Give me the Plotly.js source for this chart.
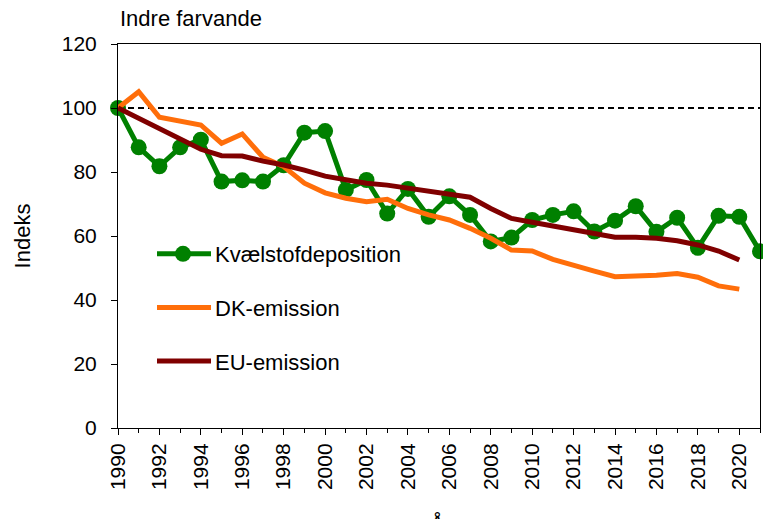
<!DOCTYPE html>
<html>
<head>
<meta charset="utf-8">
<script src="https://cdn.plot.ly/plotly-3.0.1.min.js"></script>
<style>html,body{margin:0;padding:0;background:#fff;}#chart{width:763px;height:519px;}</style>
</head>
<body>
<div id="chart"></div>
<script>
var years = [1990,1991,1992,1993,1994,1995,1996,1997,1998,1999,2000,2001,2002,2003,2004,2005,2006,2007,2008,2009,2010,2011,2012,2013,2014,2015,2016,2017,2018,2019,2020,2021];
var deposition = [100,87.7,81.8,87.7,90.1,77,77.4,77,82.1,92.3,92.8,74.4,77.5,67,74.7,66,72.4,66.6,58.3,59.5,65,66.6,67.7,61.4,64.8,69.3,61.3,65.7,56.3,66.3,66,55.2];
var emisYears = [1990,1991,1992,1993,1994,1995,1996,1997,1998,1999,2000,2001,2002,2003,2004,2005,2006,2007,2008,2009,2010,2011,2012,2013,2014,2015,2016,2017,2018,2019,2020];
var dkEmission = [100,105.1,97.1,95.9,94.7,89,91.9,84.6,81.7,76.5,73.5,71.8,70.7,71.5,68.6,66.6,65,62.4,59.3,55.6,55.3,52.7,50.7,49,47.3,47.5,47.7,48.3,47.1,44.4,43.4];
var euEmission = [100,96.8,93.6,90,87.1,85.1,85,83.4,82.2,80.6,78.7,77.6,76.5,75.9,74.9,73.9,73.1,72.1,68.6,65.5,64.3,63.1,61.9,60.5,59.6,59.6,59.3,58.5,57.2,55.3,52.5];
var refYears = [1990, 2021];
var refValues = [100, 100];
var names = ['Kvælstofdeposition', 'DK-emission', 'EU-emission'];
var tickYears = [1990,1992,1994,1996,1998,2000,2002,2004,2006,2008,2010,2012,2014,2016,2018,2020];
var yTicks = [0,20,40,60,80,100,120];

var traces = [
  {x: refYears, y: refValues, mode: 'lines', line: {color: '#000', width: 2, dash: '6px,4px'}, showlegend: false, hoverinfo: 'skip'},
  {x: years, y: deposition, mode: 'lines+markers', name: names[0], legendgroup: 'a', cliponaxis: false,
   line: {color: '#008000', width: 5}, marker: {color: '#008000', size: 16}},
  {x: emisYears, y: dkEmission, mode: 'lines', name: names[1], legendgroup: 'b', line: {color: '#FF6E0A', width: 5}},
  {x: emisYears, y: euEmission, mode: 'lines', name: names[2], legendgroup: 'c', line: {color: '#800000', width: 5}}
];

var layout = {
  width: 763, height: 519,
  margin: {l: 118, r: 3, t: 44, b: 91},
  paper_bgcolor: '#fff', plot_bgcolor: '#fff',
  font: {family: 'Liberation Sans, Arial, sans-serif', color: '#000', size: 21},
  title: {text: 'Indre farvande', x: 120/763, xanchor: 'left', yref: 'container', y: 1 - 18/519, yanchor: 'middle', font: {size: 22}},
  xaxis: {
    range: [1990, 2021], tickmode: 'array', tickvals: tickYears, ticktext: tickYears.map(String),
    tickangle: -90, ticks: 'outside', ticklen: 6, tickwidth: 1, tickcolor: '#000',
    minor: {dtick: 1, ticks: 'outside', ticklen: 4, tickcolor: '#000', showgrid: false},
    showline: true, linecolor: '#000', linewidth: 1, mirror: true, showgrid: false, zeroline: false,
    tickfont: {size: 21}
  },
  yaxis: {
    range: [0, 120], tickmode: 'array', tickvals: yTicks, ticks: 'outside', ticklen: 6, tickcolor: '#000',
    showline: true, linecolor: '#000', linewidth: 1, mirror: true, showgrid: false, zeroline: false,
    ticklabelstandoff: 10,
    title: {text: 'Indeks', font: {size: 22}, standoff: 25},
    tickfont: {size: 21}
  },
  legend: {x: (175-118)/642, y: (428-233)/384, xanchor: 'left', yanchor: 'top', bgcolor: 'rgba(0,0,0,0)',
    font: {size: 22}, tracegroupgap: 22, traceorder: 'grouped'},
  annotations: [
    {text: 'År', xref: 'paper', yref: 'paper', x: (441-118)/642, y: -(509-428)/384, xanchor: 'center', yanchor: 'top', showarrow: false, font: {size: 22}}
  ]
};

function fixLegend(gd) {
  // let legend samples extend beyond the legend box, and lengthen them as in the reference
  gd.querySelectorAll('.legend .scrollbox, .legend').forEach(function (g) { g.removeAttribute('clip-path'); });
  gd.querySelectorAll('.legend .legendlines path').forEach(function (p) { p.setAttribute('d', 'M-18,0h54'); });
  gd.querySelectorAll('.legend .legendpoints').forEach(function (g) { g.setAttribute('transform', 'translate(-12,0)'); });
}
var gdEl = document.getElementById('chart');
Plotly.newPlot(gdEl, traces, layout, {staticPlot: true}).then(function (gd) {
  fixLegend(gd);
  setTimeout(function () { fixLegend(gd); }, 0);
  gd.on('plotly_afterplot', function () { fixLegend(gd); });
});
</script>
</body>
</html>
